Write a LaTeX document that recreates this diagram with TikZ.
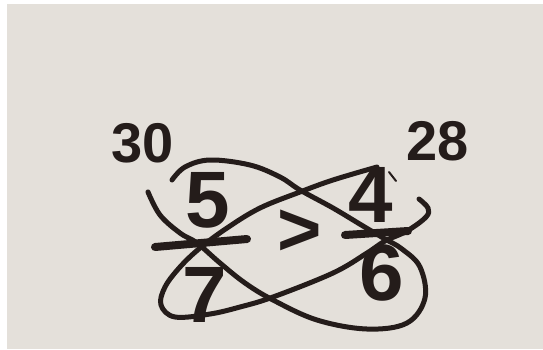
\documentclass[tikz,border=0pt]{standalone}
\usepackage{fontspec}
\setmainfont{Liberation Sans}
\usetikzlibrary{calc}

\definecolor{paper}{RGB}{228,224,218}
\definecolor{ink}{RGB}{36,28,26}

\begin{document}
\begin{tikzpicture}[x=1pt, y=-1pt,
    marker/.style={draw=ink, line cap=round, line join=round},
    digit/.style={text=ink, inner sep=0pt, font=\fontsize{80}{80}\selectfont\bfseries},
    product/.style={text=ink, inner sep=0pt, font=\fontsize{56}{56}\selectfont\bfseries}]

    % 1. Kartka papieru (biały brzeg u góry i z lewej)
    \fill[white] (0,0) rectangle (543,349);
    \fill[paper] (7,4) rectangle (543,349);
    \useasboundingbox (0,0) rectangle (543,349);

    % 2. Ułamki: 5/7 > 4/6
    \node[digit] (five) at (208,200) {5};
    \node[digit] (seven) at (205,295) {7};
    \node[digit] (four) at (371,195) {4};
    \node[digit] (six) at (382,273) {6};
    \node[digit, font=\fontsize{76}{76}\selectfont\bfseries] (gt) at (300,233) {>};

    % kreski ułamkowe
    \draw[marker, line width=8pt] (155,247) -- (247,239);
    \draw[marker, line width=8pt] (345,235) -- (408,231);

    % 3. Iloczyny na krzyż
    \node[product] (thirty) at (143,143) {30};
    \node[product] (twentyeight) at (438,141) {28};

    % 4. Pętla 5 -- 6
    \draw[marker, line width=5pt] plot[smooth, tension=0.6] coordinates {
        (148,192) (160,215) (180,233) (197,243) (220,263) (245,283)
        (273,300) (317,320) (367,329) (407,323) (425,298) (420,267)
        (402,249) (385,239) (363,226) (333,208) (300,190) (280,177)
        (250,165) (210,160) (185,167) (172,180)
    };

    % 5. Pętla 4 -- 7
    \draw[marker, line width=5pt] plot[smooth, tension=0.6] coordinates {
        (377,167) (333,180) (300,192) (260,208) (227,228) (200,248)
        (180,267) (165,287) (161,305) (175,317) (210,314) (240,307)
        (273,297) (333,273) (367,253) (385,241) (407,231) (426,217)
        (428,208) (419,199)
    };

    % drobny ślad pisaka przy czwórce
    \draw[marker, line width=2pt] (389,172) -- (396,181);

\end{tikzpicture}
\end{document}
